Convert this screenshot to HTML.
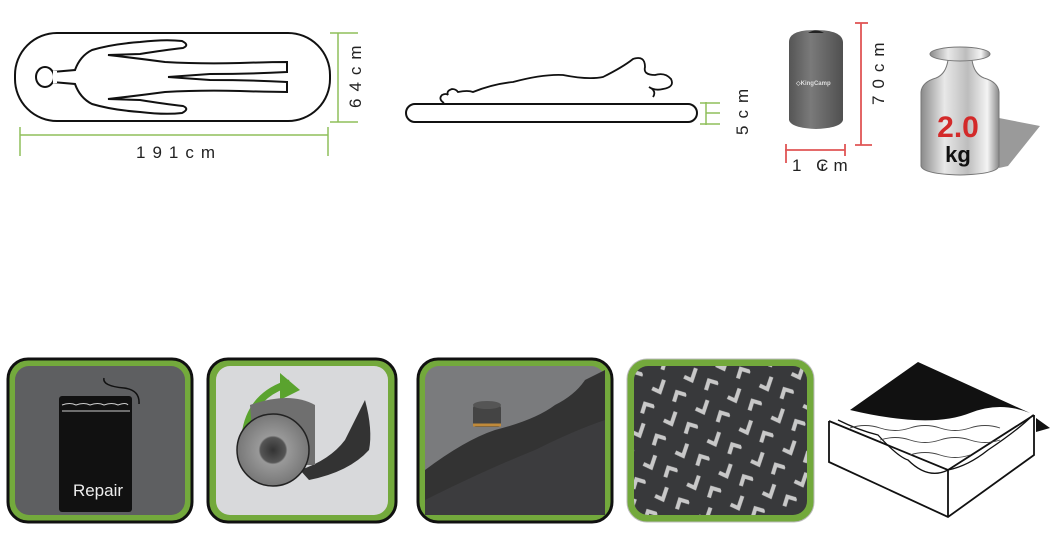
<!DOCTYPE html>
<html><head><meta charset="utf-8"><style>
html,body{margin:0;padding:0;background:#fff;}
svg{display:block;}
text{font-family:"Liberation Sans",sans-serif;}
</style></head><body>
<svg width="1058" height="540" viewBox="0 0 1058 540" xmlns="http://www.w3.org/2000/svg">
<defs>
<linearGradient id="bag" x1="0" x2="1"><stop offset="0" stop-color="#555"/><stop offset=".4" stop-color="#7a7a7a"/><stop offset="1" stop-color="#505050"/></linearGradient>
<linearGradient id="met" x1="0" x2="1"><stop offset="0" stop-color="#8a8a8a"/><stop offset=".3" stop-color="#e8e8e8"/><stop offset=".6" stop-color="#bdbdbd"/><stop offset=".85" stop-color="#f4f4f4"/><stop offset="1" stop-color="#888"/></linearGradient>
<radialGradient id="roll"><stop offset="0" stop-color="#333"/><stop offset=".35" stop-color="#555"/><stop offset=".4" stop-color="#999"/><stop offset="1" stop-color="#777"/></radialGradient>
<pattern id="chev" width="34" height="34" patternUnits="userSpaceOnUse" patternTransform="rotate(-20)">
<path d="M4 10 l6 6 l8 -10" fill="none" stroke="#c8c8c8" stroke-width="4"/>
<path d="M20 30 l6 -8 l8 6" fill="none" stroke="#c8c8c8" stroke-width="4"/>
</pattern>
<path id="half" d="M52 72 L75 70 Q80 56 92 50 Q112 44 140 42 Q165 39 182 41 Q190 45 183 48 Q165 50 140 54 L108 55 Q135 58 165 62 Q200 64 240 63 Q270 62 287 62 L287 72 Q250 74 210 74 L168 77" fill="none" stroke="#111" stroke-width="2"/>
</defs>

<!-- Top view mat -->
<rect x="15" y="33" width="315" height="88" rx="42" fill="none" stroke="#111" stroke-width="2"/>
<use href="#half"/>
<use href="#half" transform="translate(0,154) scale(1,-1)"/>
<ellipse cx="45" cy="77" rx="9" ry="10" fill="#fff" stroke="#111" stroke-width="2"/>
<rect x="53" y="71" width="4" height="12" fill="#fff"/>
<g stroke="#8fbf5a" stroke-width="1.5">
<line x1="20" y1="135" x2="328" y2="135"/><line x1="20" y1="127" x2="20" y2="156"/><line x1="328" y1="127" x2="328" y2="156"/>
<line x1="338" y1="33" x2="338" y2="122"/><line x1="330" y1="33" x2="358" y2="33"/><line x1="330" y1="122" x2="358" y2="122"/>
</g>
<text x="136" y="158" font-size="17" fill="#222" letter-spacing="7">191cm</text>
<text transform="translate(361,108) rotate(-90)" font-size="17" fill="#222" letter-spacing="7">64cm</text>

<!-- Side view -->
<rect x="406" y="104" width="291" height="18" rx="9" fill="none" stroke="#111" stroke-width="2"/>
<path d="M444 103 q-6 -4 -2 -8 q4 -2 6 0 q-2 -4 4 -6 q4 0 6 3 q10 -2 15 0 q20 -8 40 -10 q30 -8 50 -7 q25 5 40 2 q20 -10 30 -18 q12 -4 12 8 q-2 8 10 8 q10 -3 16 4 q4 8 -8 10 q-8 2 -14 -2 q8 4 4 10" fill="none" stroke="#111" stroke-width="1.8"/>
<g stroke="#8fbf5a" stroke-width="1.5"><line x1="706" y1="102" x2="706" y2="125"/><line x1="706" y1="113" x2="720" y2="113"/><line x1="700" y1="103" x2="720" y2="103"/><line x1="700" y1="124" x2="720" y2="124"/></g>
<text transform="translate(748,135) rotate(-90)" font-size="17" fill="#222" letter-spacing="7">5cm</text>

<!-- Bag -->
<path d="M789 42 q0 -12 26 -12 q27 0 28 12 v78 q-2 8 -27 9 q-25 -1 -27 -9 z" fill="url(#bag)"/>
<path d="M808 33 q8 -5 16 0" fill="#222"/>
<text x="796" y="85" font-size="6" fill="#ddd" font-weight="bold">◇KingCamp</text>
<g stroke="#e05555" stroke-width="1.8"><line x1="861" y1="23" x2="861" y2="145"/><line x1="855" y1="23" x2="868" y2="23"/><line x1="855" y1="145" x2="872" y2="145"/>
<line x1="785" y1="150" x2="845" y2="150"/><line x1="786" y1="144" x2="786" y2="163"/><line x1="845" y1="144" x2="845" y2="156"/></g>
<text transform="translate(884,105) rotate(-90)" font-size="17" fill="#222" letter-spacing="7">70cm</text>
<text x="792" y="171" font-size="17" fill="#222" letter-spacing="5">1 ₢m</text>

<!-- Weight -->
<polygon points="999,118 1040,126 1008,166 999,168" fill="#9a9a9a"/>
<path d="M948 60 h24 q2 14 12 18 q14 4 15 14 v74 q-2 8 -39 9 q-37 -1 -39 -9 v-74 q1 -10 15 -14 q10 -4 12 -18 z" fill="url(#met)" stroke="#777"/>
<ellipse cx="960" cy="54" rx="30" ry="7" fill="url(#met)" stroke="#777"/>
<text x="958" y="137" font-size="30" font-weight="bold" fill="#d32a2a" text-anchor="middle">2.0</text>
<text x="958" y="162" font-size="22" font-weight="bold" fill="#111" text-anchor="middle">kg</text>

<!-- Panels -->
<g stroke="#111" stroke-width="3" fill="#73a93c">
<rect x="8" y="359" width="184" height="163" rx="20"/>
<rect x="208" y="359" width="188" height="163" rx="20"/>
<rect x="418" y="359" width="194" height="163" rx="20"/>
</g>
<rect x="627" y="359" width="187" height="163" rx="20" fill="#73a93c" stroke="#bbb" stroke-width="1"/>
<rect x="15" y="366" width="170" height="149" rx="14" fill="#5e5f61"/>
<rect x="216" y="366" width="172" height="149" rx="14" fill="#d8d9db"/>
<rect x="425" y="366" width="180" height="149" rx="14" fill="#7a7b7d"/>
<rect x="634" y="366" width="173" height="149" rx="14" fill="#38393b"/>
<rect x="634" y="366" width="173" height="149" rx="14" fill="url(#chev)"/>

<!-- repair bag -->
<path d="M104 378 q-2 8 20 10 q16 2 15 16" fill="none" stroke="#111" stroke-width="1.5"/>
<rect x="59" y="396" width="73" height="116" rx="3" fill="#111"/>
<path d="M62 405 q8 -3 14 0 q8 -3 14 0 q8 -3 14 0 q8 -3 14 0 q8 -3 10 0 M62 411 h68" stroke="#ccc" fill="none" stroke-width="1"/>
<text x="98" y="496" font-size="17" fill="#eee" text-anchor="middle">Repair</text>

<!-- roll -->
<path d="M245 435 q5 -40 45 -52" fill="none" stroke="#5aa32e" stroke-width="7"/>
<polygon points="280,373 300,390 280,400" fill="#5aa32e"/>
<path d="M300 470 q30 -10 45 -30 q10 -20 20 -40 q8 30 4 50 q-20 22 -60 30 z" fill="#333"/>
<path d="M250 405 q40 -14 65 0 v60 h-60 z" fill="#6f6f6f"/>
<circle cx="273" cy="450" r="36" fill="url(#roll)" stroke="#222" stroke-width="1.5"/>

<!-- valve -->
<path d="M425 470 q40 -30 70 -40 q40 -10 60 -25 q20 -10 30 -25 q10 -5 20 -10 v145 h-180 z" fill="#333"/>
<path d="M425 500 q60 -30 110 -50 q40 -20 70 -30 v95 h-180 z" fill="#3c3c3e"/>
<rect x="473" y="405" width="28" height="22" rx="3" fill="#444"/>
<ellipse cx="487" cy="405" rx="14" ry="4" fill="#555"/>
<path d="M473 425 h28" stroke="#c08a3a" stroke-width="3"/>

<!-- foam cube -->
<polygon points="829,421 948,470 1034,415 918,362" fill="#fff"/>
<path d="M850 410 L918 362 L1030 413 q-30 -12 -60 0 q-40 16 -120 -3 z" fill="#111"/>
<polygon points="1036,418 1050,428 1036,432" fill="#111"/>
<path d="M829 421 L948 470 L1034 415 M829 421 V462 L948 517 L1034 455 V415 M948 470 V517" fill="none" stroke="#111" stroke-width="1.8"/>
<path d="M838 420 q20 10 40 15 q20 22 30 25 q20 20 40 10 q20 -4 40 -20 q30 -20 45 -35" fill="none" stroke="#111" stroke-width="1.3"/>
<path d="M850 428 q15 -5 30 0 q15 5 30 0 q15 -5 30 0 q15 5 30 0 q15 -5 30 0 M880 440 q15 -5 30 0 q15 5 30 0 q15 -5 30 0 q15 5 30 0 M910 455 q15 -5 30 0 q15 5 30 0" fill="none" stroke="#444" stroke-width="0.9"/>
</svg>
</body></html>
